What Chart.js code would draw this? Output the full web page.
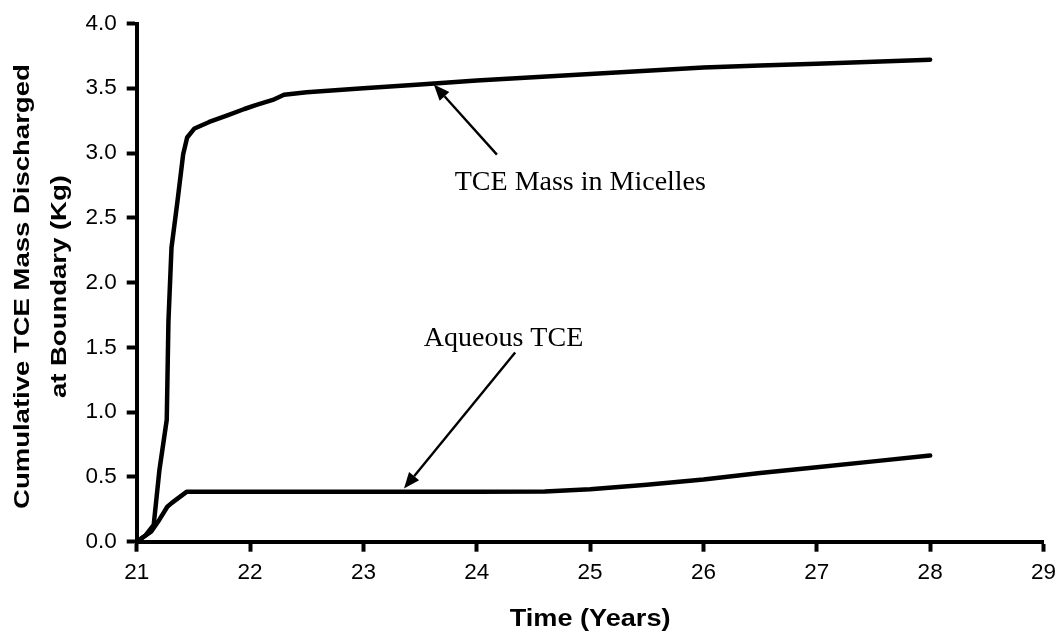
<!DOCTYPE html>
<html>
<head>
<meta charset="utf-8">
<script src="https://cdn.jsdelivr.net/npm/chart.js@4.4.1/dist/chart.umd.min.js"></script>
<style>
  html, body { margin: 0; padding: 0; background: #ffffff; }
  #wrap { width: 1064px; height: 632px; position: relative; }
</style>
</head>
<body>
<div id="wrap"><canvas id="chart"></canvas></div>
<script>
// Cumulative TCE mass discharged at the boundary (kg) against time (years)
const micellesYears = [21.0, 21.08, 21.15, 21.2, 21.265, 21.28, 21.307, 21.36, 21.41, 21.445, 21.51, 21.64, 21.8, 21.95, 22.05, 22.2, 22.3, 22.5, 23.0, 23.5, 24.0, 24.5, 25.0, 25.5, 26.0, 26.5, 27.0, 27.5, 28.0];
const micellesMass  = [0.0, 0.05, 0.13, 0.55, 0.94, 1.70, 2.27, 2.63, 2.99, 3.12, 3.19, 3.24, 3.29, 3.34, 3.37, 3.41, 3.45, 3.47, 3.50, 3.53, 3.56, 3.585, 3.61, 3.635, 3.66, 3.675, 3.69, 3.705, 3.72];

const aqueousYears = [21.0, 21.13, 21.2, 21.27, 21.31, 21.44, 22.0, 23.0, 24.0, 24.6, 25.0, 25.5, 26.0, 26.5, 27.0, 27.5, 28.0];
const aqueousMass  = [0.0, 0.08, 0.17, 0.27, 0.30, 0.385, 0.385, 0.385, 0.385, 0.388, 0.405, 0.44, 0.48, 0.53, 0.575, 0.62, 0.665];

const xTickValues = [21, 22, 23, 24, 25, 26, 27, 28, 29];
const yTickValues = [0.0, 0.5, 1.0, 1.5, 2.0, 2.5, 3.0, 3.5, 4.0];

const xTitle = 'Time (Years)';
const yTitle = ['Cumulative TCE Mass Discharged', 'at Boundary (Kg)'];

// Callout labels with arrows, placed in data coordinates
const callouts = [
  { text: 'TCE Mass in Micelles', textX: 23.806, textY: 2.718, fromX: 24.178, fromY: 2.988, toX: 23.621, toY: 3.53 },
  { text: 'Aqueous TCE',          textX: 23.533, textY: 1.513, fromX: 24.339, fromY: 1.46,  toX: 23.358, toY: 0.41 }
];

const toPoints = (xs, ys) => xs.map((x, i) => ({ x: x, y: ys[i] }));

const calloutPlugin = {
  id: 'callouts',
  afterDatasetsDraw(chart) {
    const { ctx, scales: { x, y } } = chart;
    ctx.save();
    ctx.fillStyle = '#000';
    ctx.strokeStyle = '#000';
    ctx.font = '28px "Liberation Serif", "Times New Roman", serif';
    ctx.textBaseline = 'alphabetic';
    ctx.textAlign = 'left';
    callouts.forEach(c => {
      ctx.fillText(c.text, x.getPixelForValue(c.textX), y.getPixelForValue(c.textY));
      const x1 = x.getPixelForValue(c.fromX), y1 = y.getPixelForValue(c.fromY);
      const x2 = x.getPixelForValue(c.toX),   y2 = y.getPixelForValue(c.toY);
      const ang = Math.atan2(y2 - y1, x2 - x1);
      const headLen = 16, headHalf = 6.5;
      const bx = x2 - headLen * Math.cos(ang), by = y2 - headLen * Math.sin(ang);
      ctx.lineWidth = 2.4;
      ctx.beginPath();
      ctx.moveTo(x1, y1);
      ctx.lineTo(bx, by);
      ctx.stroke();
      ctx.beginPath();
      ctx.moveTo(x2, y2);
      ctx.lineTo(bx + headHalf * Math.sin(ang), by - headHalf * Math.cos(ang));
      ctx.lineTo(bx - headHalf * Math.sin(ang), by + headHalf * Math.cos(ang));
      ctx.closePath();
      ctx.fill();
    });
    ctx.restore();
  }
};

// Axis titles: bold sans, set slightly wide along the reading direction
const axisTitlePlugin = {
  id: 'axisTitles',
  afterDraw(chart) {
    const { ctx, chartArea, scales: { x, y } } = chart;
    ctx.save();
    ctx.fillStyle = '#000';
    ctx.textAlign = 'center';
    ctx.textBaseline = 'alphabetic';

    ctx.font = 'bold 23px "Liberation Sans", Arial, sans-serif';
    ctx.save();
    ctx.translate((chartArea.left + chartArea.right) / 2, x.bottom - 6.3);
    ctx.scale(1.18, 1);
    ctx.fillText(xTitle, 0, 0);
    ctx.restore();

    ctx.font = 'bold 22px "Liberation Sans", Arial, sans-serif';
    const cy = (chartArea.top + chartArea.bottom) / 2 + 4;
    const baselines = [y.left + 29, y.left + 65.8];
    yTitle.forEach((line, i) => {
      ctx.save();
      ctx.translate(baselines[i], cy);
      ctx.rotate(-Math.PI / 2);
      ctx.scale(1.25, 1);
      ctx.fillText(line, 0, 0);
      ctx.restore();
    });
    ctx.restore();
  }
};

const tickFont = { family: '"Liberation Sans", Arial, sans-serif', size: 22.5 };

new Chart(document.getElementById('chart'), {
  type: 'line',
  data: {
    datasets: [
      {
        label: 'TCE Mass in Micelles',
        data: toPoints(micellesYears, micellesMass),
        borderColor: '#000',
        borderWidth: 4.5,
        pointRadius: 0,
        tension: 0,
        borderJoinStyle: 'round',
        borderCapStyle: 'round',
        fill: false
      },
      {
        label: 'Aqueous TCE',
        data: toPoints(aqueousYears, aqueousMass),
        borderColor: '#000',
        borderWidth: 4.5,
        pointRadius: 0,
        tension: 0,
        borderJoinStyle: 'round',
        borderCapStyle: 'round',
        fill: false
      }
    ]
  },
  options: {
    responsive: true,
    maintainAspectRatio: false,
    animation: false,
    events: [],
    layout: { padding: { top: 21.7, right: 17, bottom: 0, left: 0 } },
    plugins: {
      legend: { display: false },
      tooltip: { enabled: false }
    },
    scales: {
      x: {
        type: 'linear',
        min: 21,
        max: 29,
        afterBuildTicks: s => { s.ticks = xTickValues.map(v => ({ value: v })); },
        afterFit: s => { s.height = 90.3; },
        ticks: {
          color: '#000',
          font: tickFont,
          padding: 8,
          maxRotation: 0,
          callback: v => String(v)
        },
        grid: {
          display: true,
          drawOnChartArea: false,
          drawTicks: true,
          tickLength: 10,
          tickWidth: 4,
          tickColor: '#000'
        },
        border: { display: true, color: '#000', width: 4 },
        title: { display: false }
      },
      y: {
        type: 'linear',
        min: 0,
        max: 4,
        afterBuildTicks: s => { s.ticks = yTickValues.map(v => ({ value: v })); },
        afterFit: s => { s.width = 136.7; },
        ticks: {
          color: '#000',
          font: tickFont,
          padding: 10,
          callback: v => Number(v).toFixed(1)
        },
        grid: {
          display: true,
          drawOnChartArea: false,
          drawTicks: true,
          tickLength: 10,
          tickWidth: 4,
          tickColor: '#000'
        },
        border: { display: true, color: '#000', width: 4 },
        title: { display: false }
      }
    }
  },
  plugins: [calloutPlugin, axisTitlePlugin]
});
</script>
</body>
</html>
